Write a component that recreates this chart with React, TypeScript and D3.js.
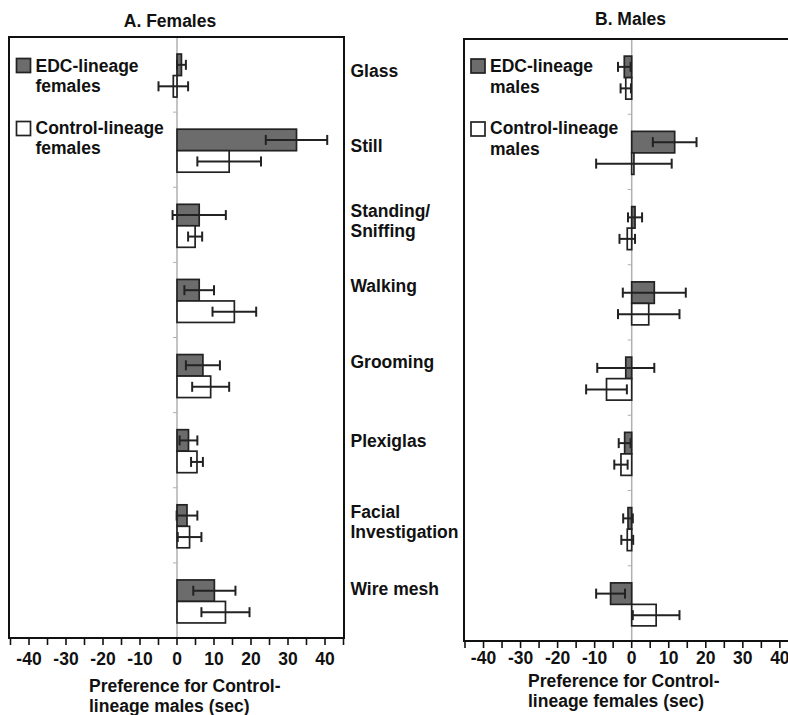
import React from "react";
import * as d3 from "d3";

// ---------- data ----------
const categories = [
  "Glass",
  "Still",
  "Standing/Sniffing",
  "Walking",
  "Grooming",
  "Plexiglas",
  "Facial Investigation",
  "Wire mesh",
];
const categoryLines = [
  ["Glass"],
  ["Still"],
  ["Standing/", "Sniffing"],
  ["Walking"],
  ["Grooming"],
  ["Plexiglas"],
  ["Facial", "Investigation"],
  ["Wire mesh"],
];

const femaleEDC = [1.2, 32.3, 6.0, 6.0, 7.0, 3.1, 2.7, 10.1];
const femaleEDCErr = [1.2, 8.3, 7.2, 4.0, 4.6, 2.4, 2.8, 5.7];
const femaleCtrl = [-1.0, 14.1, 4.9, 15.5, 9.1, 5.4, 3.4, 13.1];
const femaleCtrlErr = [4.0, 8.6, 1.9, 5.9, 5.0, 1.6, 3.2, 6.5];

const maleEDC = [-2.0, 11.6, 0.9, 6.1, -1.6, -1.9, -1.0, -5.7];
const maleEDCErr = [1.7, 5.9, 1.9, 8.5, 7.7, 1.6, 1.3, 3.9];
const maleCtrl = [-1.6, 0.6, -1.2, 4.6, -6.8, -2.9, -1.2, 6.6];
const maleCtrlErr = [1.4, 10.2, 2.1, 8.3, 5.5, 1.8, 1.6, 6.3];

const tickLabels = [-40, -30, -20, -10, 0, 10, 20, 30, 40];
const minorTicks = d3.range(-45, 46, 5);

// ---------- layout ----------
const W = 788;
const H = 715;
const FONT = "'Liberation Sans', Arial, Helvetica, sans-serif";
const FS = 17.5;
const EDC_FILL = "#6c6c6c";
const STROKE = "#222";
const labelBaselineOffset = [2, 2, -8, -7.5, -7, -3.5, -7, -5];

type PanelProps = {
  x0: number;
  x1: number;
  y0: number;
  y1: number;
  r0: number;
  r1: number;
  edc: number[];
  edcErr: number[];
  ctrl: number[];
  ctrlErr: number[];
  title: string;
  titleX: number;
  titleY: number;
  legendX: number;
  legendY: number;
  legendSuffix: string;
  axisLines: string[];
  axisX: number;
  axisY: number;
  tickLabelY: number;
};

function Panel(p: PanelProps) {
  const x = d3.scaleLinear().domain([-45, 45]).range([p.r0, p.r1]);
  const y = d3.scaleBand<string>().domain(categories).range([p.y0, p.y1]).padding(0);
  const bw = y.bandwidth();
  const barH = 21.5;
  const cap = 5;

  const bar = (v: number, e: number, top: number, fill: string, key: string) => {
    const xa = x(Math.min(0, v));
    const xb = x(Math.max(0, v));
    const cy = top + barH / 2;
    return (
      <g key={key}>
        <rect x={xa} y={top} width={Math.max(xb - xa, 1)} height={barH} fill={fill} stroke={STROKE} strokeWidth={1.7} />
        <line x1={x(v - e)} x2={x(v + e)} y1={cy} y2={cy} stroke={STROKE} strokeWidth={2} />
        <line x1={x(v - e)} x2={x(v - e)} y1={cy - cap} y2={cy + cap} stroke={STROKE} strokeWidth={2} />
        <line x1={x(v + e)} x2={x(v + e)} y1={cy - cap} y2={cy + cap} stroke={STROKE} strokeWidth={2} />
      </g>
    );
  };

  return (
    <g>
      <text x={p.titleX} y={p.titleY} textAnchor="middle" fontFamily={FONT} fontWeight="bold" fontSize={FS} fill="#111">
        {p.title}
      </text>
      <line x1={x(0)} x2={x(0)} y1={p.y0} y2={p.y1} stroke="#b0b0b0" strokeWidth={1.5} />
      {categories.slice(1).map((c) => (
        <line key={"bt" + c} x1={x(0) - 4} x2={x(0)} y1={y(c)!} y2={y(c)!} stroke="#b0b0b0" strokeWidth={1} />
      ))}
      {categories.map((c, i) => {
        const cy = y(c)! + bw / 2;
        return (
          <g key={c}>
            {bar(p.edc[i], p.edcErr[i], cy - 20.5, EDC_FILL, "e" + c)}
            {bar(p.ctrl[i], p.ctrlErr[i], cy + 1, "#ffffff", "c" + c)}
          </g>
        );
      })}
      <rect x={p.x0} y={p.y0} width={p.x1 - p.x0} height={p.y1 - p.y0} fill="none" stroke="#111" strokeWidth={2} />
      {minorTicks.map((t) => (
        <line key={"mt" + t} x1={x(t)} x2={x(t)} y1={p.y1} y2={p.y1 + 7} stroke="#111" strokeWidth={1.6} />
      ))}
      {tickLabels.map((t) => (
        <text key={"tl" + t} x={x(t)} y={p.tickLabelY} textAnchor="middle" fontFamily={FONT} fontWeight="bold" fontSize={FS} fill="#111">
          {t < 0 ? "-" + Math.abs(t) : String(t)}
        </text>
      ))}
      {p.axisLines.map((l, i) => (
        <text key={"at" + i} x={p.axisX} y={p.axisY + i * 20} fontFamily={FONT} fontWeight="bold" fontSize={FS} fill="#111">
          {l}
        </text>
      ))}
      <rect x={p.legendX} y={p.legendY} width={14} height={14} fill={EDC_FILL} stroke={STROKE} strokeWidth={1.7} />
      <text x={p.legendX + 19} y={p.legendY + 13} fontFamily={FONT} fontWeight="bold" fontSize={FS} fill="#111">
        EDC-lineage
      </text>
      <text x={p.legendX + 19} y={p.legendY + 33.5} fontFamily={FONT} fontWeight="bold" fontSize={FS} fill="#111">
        {p.legendSuffix}
      </text>
      <rect x={p.legendX} y={p.legendY + 63} width={14} height={14} fill="#ffffff" stroke={STROKE} strokeWidth={1.7} />
      <text x={p.legendX + 19} y={p.legendY + 75} fontFamily={FONT} fontWeight="bold" fontSize={FS} fill="#111">
        Control-lineage
      </text>
      <text x={p.legendX + 19} y={p.legendY + 95.5} fontFamily={FONT} fontWeight="bold" fontSize={FS} fill="#111">
        {p.legendSuffix}
      </text>
    </g>
  );
}

export default function App() {
  const yLab = d3.scaleBand<string>().domain(categories).range([37, 638]).padding(0);
  return (
    <svg
      width={W}
      height={H}
      viewBox={`0 0 ${W} ${H}`}
      style={{ position: "absolute", left: 0, top: 0, background: "#fff" }}
    >
      <rect x={0} y={0} width={W} height={H} fill="#fff" />
      <Panel
        x0={9}
        x1={344}
        y0={37}
        y1={638}
        r0={10.5}
        r1={343.5}
        edc={femaleEDC}
        edcErr={femaleEDCErr}
        ctrl={femaleCtrl}
        ctrlErr={femaleCtrlErr}
        title="A. Females"
        titleX={170}
        titleY={27}
        legendX={16.5}
        legendY={58.5}
        legendSuffix="females"
        axisLines={["Preference for Control-", "lineage males (sec)"]}
        axisX={89}
        axisY={692}
        tickLabelY={665}
      />
      <Panel
        x0={464}
        x1={800}
        y0={39}
        y1={641}
        r0={465}
        r1={798.4}
        edc={maleEDC}
        edcErr={maleEDCErr}
        ctrl={maleCtrl}
        ctrlErr={maleCtrlErr}
        title="B. Males"
        titleX={630.5}
        titleY={25}
        legendX={471}
        legendY={59}
        legendSuffix="males"
        axisLines={["Preference for Control-", "lineage females (sec)"]}
        axisX={528}
        axisY={687}
        tickLabelY={664}
      />
      {categories.map((c, i) => {
        const cy = yLab(c)! + yLab.bandwidth() / 2 + labelBaselineOffset[i];
        return (
          <text key={"cl" + c} x={350.5} y={cy} fontFamily={FONT} fontWeight="bold" fontSize={FS} fill="#111">
            {categoryLines[i].map((l, j) => (
              <tspan key={j} x={350.5} y={cy + j * 20}>
                {l}
              </tspan>
            ))}
          </text>
        );
      })}
    </svg>
  );
}
